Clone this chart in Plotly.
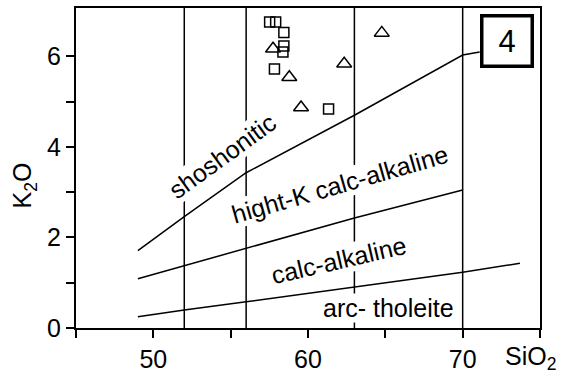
import plotly.graph_objects as go

# --- data ---
sq_x = [57.52, 57.91, 58.44, 58.44, 58.38, 57.83, 61.33]
sq_y = [6.76, 6.76, 6.53, 6.23, 6.10, 5.72, 4.84]
tri_x = [57.74, 58.79, 59.55, 62.34, 64.77]
tri_y = [6.17, 5.54, 4.87, 5.84, 6.52]

shosh_x = [49, 52, 56, 63, 70, 71.1]
shosh_y = [1.71, 2.46, 3.43, 4.70, 6.03, 6.10]
hk_x = [49, 52, 56, 63, 70]
hk_y = [1.09, 1.38, 1.76, 2.43, 3.05]
th_x = [49, 52, 56, 63, 70, 73.7]
th_y = [0.25, 0.40, 0.58, 0.91, 1.23, 1.43]
vlines = [52, 56, 63, 70]

x_range = [45, 75]
y_range = [0, 7.07]
x_ticks = [50, 60, 70]
x_minor = [45, 55, 65, 75]
y_ticks = [0, 2, 4, 6]
y_minor = [1, 3, 5]

FONT = "Liberation Sans, Arial, sans-serif"
LW = 1.5

fig = go.Figure()

# vertical division lines
vx, vy = [], []
for v in vlines:
    vx += [v, v, None]
    vy += [y_range[0], y_range[1], None]
fig.add_trace(go.Scatter(x=vx, y=vy, mode="lines",
                         line=dict(color="black", width=LW), hoverinfo="skip"))

for xs, ys in [(shosh_x, shosh_y), (hk_x, hk_y), (th_x, th_y)]:
    fig.add_trace(go.Scatter(x=xs, y=ys, mode="lines",
                             line=dict(color="black", width=LW), hoverinfo="skip"))

fig.add_trace(go.Scatter(x=sq_x, y=sq_y, mode="markers",
                         marker=dict(symbol="square-open", size=10, color="black",
                                     line=dict(width=1.5, color="black"))))
fig.add_trace(go.Scatter(x=tri_x, y=tri_y, mode="markers",
                         marker=dict(symbol="triangle-up-open", size=13, color="black",
                                     line=dict(width=1.5, color="black"))))

labels = [
    ("shoshonitic", 54.47, 3.79, -36),
    ("hight-K calc-alkaline", 62.1, 3.18, -16),
    ("calc-alkaline", 62.0, 1.50, -13),
    ("arc- tholeite", 65.18, 0.45, 0),
]
for txt, lx, ly, ang in labels:
    fig.add_annotation(x=lx, y=ly, xref="x", yref="y", text=txt, showarrow=False,
                       textangle=ang, bgcolor="white", borderpad=0,
                       font=dict(family=FONT, size=25, color="black"))

# panel number box
fig.add_annotation(x=72.89, y=6.35, xref="x", yref="y", text="4", showarrow=False,
                   width=47, height=47, borderpad=0, borderwidth=3.5,
                   bordercolor="black", bgcolor="white",
                   font=dict(family=FONT, size=31, color="black"))

W, H = 565, 379
L, R, T, B = 76, 25, 6, 48.5
PW, PH = W - L - R, H - T - B


def px_to_paper(px, py):
    return (px - L) / PW, 1 - (py - T) / PH


kx, ky = px_to_paper(24, 186)
fig.add_annotation(x=kx, y=ky, xref="paper", yref="paper", text="K<sub>2</sub>O",
                   xanchor="center", yanchor="middle",
                   showarrow=False, textangle=-90, font=dict(family=FONT, size=25, color="black"))
sx, sy = px_to_paper(530, 361)
fig.add_annotation(x=sx, y=sy, xref="paper", yref="paper", text="SiO<sub>2</sub>",
                   xanchor="center", yanchor="middle",
                   showarrow=False, font=dict(family=FONT, size=25, color="black"))

fig.update_layout(
    width=W, height=H, autosize=False,
    margin=dict(l=L, r=R, t=T, b=B, pad=0),
    paper_bgcolor="white", plot_bgcolor="white",
    showlegend=False,
    font=dict(family=FONT, size=25, color="black"),
    xaxis=dict(range=x_range, tickmode="array", tickvals=x_ticks,
               ticks="outside", ticklen=8, tickwidth=1.5, tickcolor="black",
               minor=dict(tickmode="array", tickvals=x_minor, ticks="outside",
                          ticklen=8, tickwidth=1.5, tickcolor="black", showgrid=False),
               showline=True, linewidth=2, linecolor="black", mirror=True,
               showgrid=False, zeroline=False,
               tickfont=dict(family=FONT, size=25, color="black")),
    yaxis=dict(range=y_range, tickmode="array", tickvals=y_ticks,
               ticks="outside", ticklen=8, tickwidth=1.5, tickcolor="black",
               minor=dict(tickmode="array", tickvals=y_minor, ticks="outside",
                          ticklen=8, tickwidth=1.5, tickcolor="black", showgrid=False),
               showline=True, linewidth=2, linecolor="black", mirror=True,
               showgrid=False, zeroline=False,
               tickfont=dict(family=FONT, size=25, color="black")),
)

fig.write_html("out.html")
